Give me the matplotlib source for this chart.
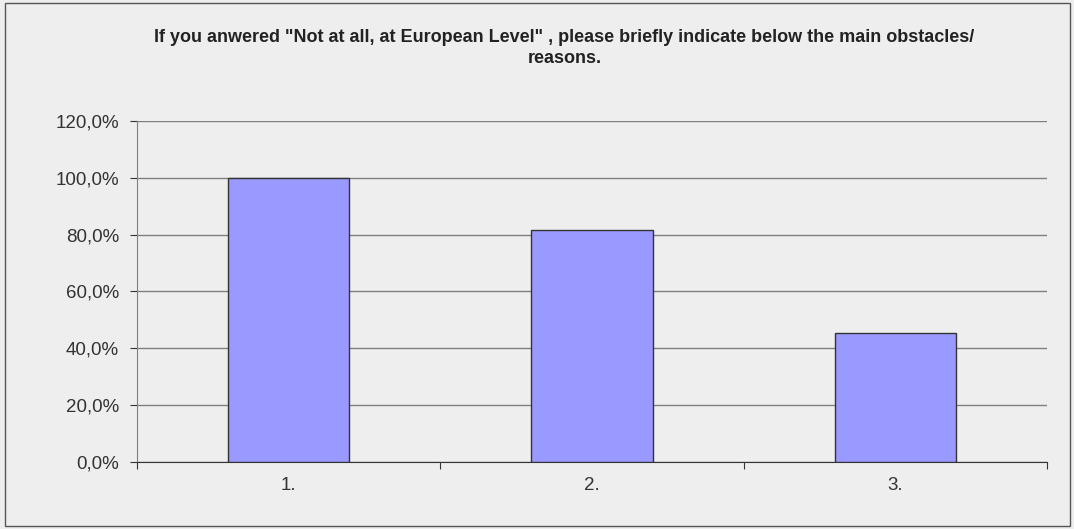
import matplotlib.pyplot as plt
from matplotlib.patches import Rectangle
from matplotlib.ticker import FuncFormatter

categories = ["1.", "2.", "3."]
percentages = [100.0, 81.8, 45.5]
y_ticks = [0, 20, 40, 60, 80, 100, 120]
title = 'If you anwered "Not at all, at European Level" , please briefly indicate below the main obstacles/\nreasons.'

plt.rcParams['font.family'] = ['Liberation Sans', 'DejaVu Sans']

fig = plt.figure(figsize=(10.74, 5.29), dpi=100, facecolor="#eeeeee")
fig.patches.append(Rectangle((0.005, 0.006), 0.991, 0.988, transform=fig.transFigure,
                             fill=False, edgecolor="#555555", linewidth=1))
ax = fig.add_axes([0.1276, 0.1267, 0.8473, 0.6446])
ax.set_facecolor("#eeeeee")

x = list(range(len(categories)))
ax.bar(x, percentages, width=0.4, color="#9999ff", edgecolor="#333333", linewidth=1, zorder=3)

ax.set_xlim(-0.5, len(categories) - 0.5)
ax.set_ylim(0, 120)
ax.set_yticks(y_ticks)
ax.yaxis.set_major_formatter(FuncFormatter(lambda v, p: f"{v:.1f}%".replace(".", ",")))
ax.grid(axis="y", color="#808080", linewidth=1, zorder=1)

ax.set_xticks([i - 0.5 for i in range(len(categories) + 1)], minor=False)
ax.set_xticklabels([])
ax.set_xticks(x, minor=True)
ax.set_xticklabels(categories, minor=True)
ax.tick_params(axis="x", which="minor", length=0, pad=11, labelsize=13.5, colors="#333333")
ax.tick_params(axis="x", which="major", length=5, color="#333333", direction="out")
ax.tick_params(axis="y", length=5, color="#333333", labelsize=13.5, labelcolor="#333333", pad=8)

for side in ["top", "right"]:
    ax.spines[side].set_visible(False)
ax.spines["left"].set_color("#808080")
ax.spines["bottom"].set_color("#333333")

fig.text(0.5256, 0.910, title, ha="center", va="center", fontsize=13, fontweight="bold",
         color="#222222", linespacing=1.3)

fig.savefig("out.png", dpi=100, facecolor=fig.get_facecolor())
